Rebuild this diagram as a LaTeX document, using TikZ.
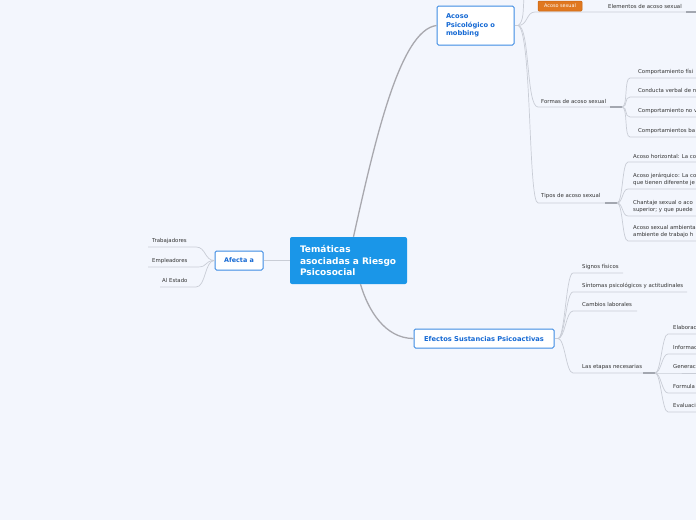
\documentclass[tikz,border=0pt]{standalone}
\usepackage{fontspec}
\setmainfont{DejaVu Sans}
\definecolor{bg}{HTML}{F3F6FD}
\definecolor{mainblue}{HTML}{1A96E8}
\definecolor{txtblue}{HTML}{1569D4}
\definecolor{brdblue}{HTML}{3D8BE3}
\definecolor{linegray}{HTML}{C9CDD6}
\definecolor{darkline}{HTML}{A3A7B0}
\definecolor{maingray}{HTML}{A8A8AE}
\definecolor{orng}{HTML}{E07820}
\definecolor{orngdark}{HTML}{C8640F}
\definecolor{leaftxt}{HTML}{333333}
\begin{document}
\begin{tikzpicture}[x=1pt,y=-1pt,
  leaf/.style={anchor=west,inner sep=0pt,font=\fontsize{5.4}{6.8}\selectfont,text=leaftxt,align=left},
  conn/.style={draw=linegray,line width=0.7pt},
  darkconn/.style={draw=darkline,line width=1.1pt},
  mainconn/.style={draw=maingray,line width=1.3pt},
  boxnode/.style={draw=brdblue,line width=1pt,fill=white,rounded corners=1.5pt,text=txtblue,
    font=\fontsize{6.7}{8.6}\selectfont\bfseries,inner sep=0pt},
  centralnode/.style={fill=mainblue,rounded corners=2pt,text=white,
    font=\fontsize{9}{11.6}\selectfont\bfseries,inner ysep=0pt,inner xsep=10pt,align=left},
  orangenode/.style={fill=orng,draw=orngdark,line width=0.5pt,rounded corners=1pt,text=white,font=\fontsize{4.9}{5.5}\selectfont,inner sep=0pt}
]
\fill[bg] (0,0) rectangle (696,520);
\useasboundingbox (0,0) rectangle (696,520);
\clip (0,0) rectangle (696,520);

% main nodes
\node[centralnode,text width=97pt,minimum width=117pt,minimum height=47pt] (central) at (348.5,260.5) {Temáticas\\asociadas a Riesgo\\Psicosocial};
\node[boxnode,minimum width=77pt,minimum height=39pt,text width=59pt,align=left] (acoso) at (475.5,25.5) {Acoso\\Psicológico o\\mobbing};
\node[boxnode,minimum width=48pt,minimum height=19pt,font=\fontsize{6.4}{8.6}\selectfont\bfseries] (afecta) at (239,260.5) {Afecta a};
\node[boxnode,minimum width=140pt,minimum height=19pt] (efectos) at (484,338.5) {Efectos Sustancias Psicoactivas};

% main connectors
\draw[mainconn] ([xshift=5pt]central.north) .. controls (375,140) and (400,30) .. (acoso.west);
\draw[mainconn] ([xshift=12pt]central.south) .. controls (368,310) and (385,338.5) .. (efectos.west);
\draw[conn,line width=1pt] (central.west) -- (afecta.east);

% Afecta a
\node[leaf] (trab) at (152,241) {Trabajadores};
\node[leaf] (empl) at (152,261) {Empleadores};
\node[leaf] (estado) at (162,280) {Al Estado};
\coordinate (trabA) at (196,247); \coordinate (trabB) at (148,247);
\coordinate (emplA) at (198,267); \coordinate (emplB) at (148,267);
\coordinate (estA) at (196,287); \coordinate (estB) at (160,287);
\draw[conn] (afecta.west) .. controls +(-10,0) and +(10,0) .. (trabA) -- (trabB);
\draw[conn] (afecta.west) .. controls +(-10,0) and +(10,0) .. (emplA) -- (emplB);
\draw[conn] (afecta.west) .. controls +(-10,0) and +(10,0) .. (estA) -- (estB);

% Acoso branches
\coordinate (acB) at (518,25.5);
\draw[conn] (acoso.east) -- (acB);
\coordinate (acUp) at (524,-3);
\draw[conn] (acB) .. controls (524,22) and (523,10) .. (acUp);
\coordinate (asxS) at (535,12); \coordinate (asxE) at (696,12);
\draw[conn] (acB) .. controls (528,25.5) and (526,12) .. (asxS) -- (asxE);
\coordinate (elemD) at (686,12);
\draw[darkconn] (elemD) -- (asxE);
\node[orangenode,minimum width=44pt,minimum height=10pt] (asx) at (560,6) {Acoso sexual};
\node[leaf] (elem) at (608,6.5) {Elementos de acoso sexual};

% Formas
\node[leaf] (formas) at (541,101) {Formas de acoso sexual};
\coordinate (fS) at (538,107); \coordinate (fE) at (622,107); \coordinate (fD) at (610,107);
\draw[conn] (acB) .. controls (530,25.5) and (526,107) .. (fS) -- (fE);
\draw[darkconn] (fD) -- (fE);
\foreach \n/\yy/\t in {f1/78/{Comportamiento físi},f2/97/{Conducta verbal de n},f3/117/{Comportamiento no v},f4/137/{Comportamientos ba}}{
  \coordinate (\n s) at (630,\yy); \coordinate (\n e) at (696,\yy);
  \draw[conn] (fE) .. controls +(6,0) and +(-6,0) .. (\n s) -- (\n e);
  \node[leaf] (\n) at (638,\yy-6.3) {\t};
}

% Tipos
\node[leaf] (tipos) at (541,196.5) {Tipos de acoso sexual};
\coordinate (tS) at (538,203); \coordinate (tE) at (617,203); \coordinate (tD) at (605,203);
\draw[conn] (acB) .. controls (532,30) and (528,203) .. (tS) -- (tE);
\draw[darkconn] (tD) -- (tE);
\foreach \n/\yy in {t1/162,t2/189,t3/216,t4/241}{
  \coordinate (\n s) at (628,\yy); \coordinate (\n e) at (696,\yy);
  \draw[conn] (tE) .. controls +(6,0) and +(-6,0) .. (\n s) -- (\n e);
}
\node[leaf] (t1) at (633,156) {Acoso horizontal: La co};
\node[leaf] (t2) at (633,179.6) {Acoso jerárquico: La co\\que tienen diferente je};
\node[leaf] (t3) at (633,206.6) {Chantaje sexual o aco\\superior; y que puede};
\node[leaf] (t4) at (633,231.6) {Acoso sexual ambienta\\ambiente de trabajo h};

% Efectos branches
\coordinate (efB) at (558,338.5);
\draw[conn] (efectos.east) -- (efB);
\node[leaf] (signos) at (582,266.5) {Signos físicos};
\node[leaf] (sintomas) at (582,286) {Síntomas psicológicos y actitudinales};
\node[leaf] (cambios) at (582,304.5) {Cambios laborales};
\node[leaf] (etapas) at (582,367) {Las etapas necesarias};
\coordinate (sgS) at (573,273); \coordinate (sgE) at (623,273);
\coordinate (siS) at (573,292); \coordinate (siE) at (687,292);
\coordinate (caS) at (573,311); \coordinate (caE) at (637,311);
\coordinate (etS) at (573,373); \coordinate (etE) at (655,373); \coordinate (etD) at (643,373);
\draw[conn] (efB) .. controls +(7,0) and +(-7,0) .. (sgS) -- (sgE);
\draw[conn] (efB) .. controls +(7,0) and +(-7,0) .. (siS) -- (siE);
\draw[conn] (efB) .. controls +(7,0) and +(-7,0) .. (caS) -- (caE);
\draw[conn] (efB) .. controls +(7,0) and +(-7,0) .. (etS) -- (etE);
\draw[darkconn] (etD) -- (etE);
\foreach \n/\yy/\t in {e1/334/{Elaborac},e2/354/{Informac},e3/373/{Generac},e4/393/{Formula},e5/412/{Evaluaci}}{
  \coordinate (\n s) at (668,\yy); \coordinate (\n e) at (696,\yy);
  \draw[conn] (etE) .. controls +(6,0) and +(-6,0) .. (\n s) -- (\n e);
  \node[leaf] (\n) at (673,\yy-6.3) {\t};
}
\end{tikzpicture}
\end{document}
